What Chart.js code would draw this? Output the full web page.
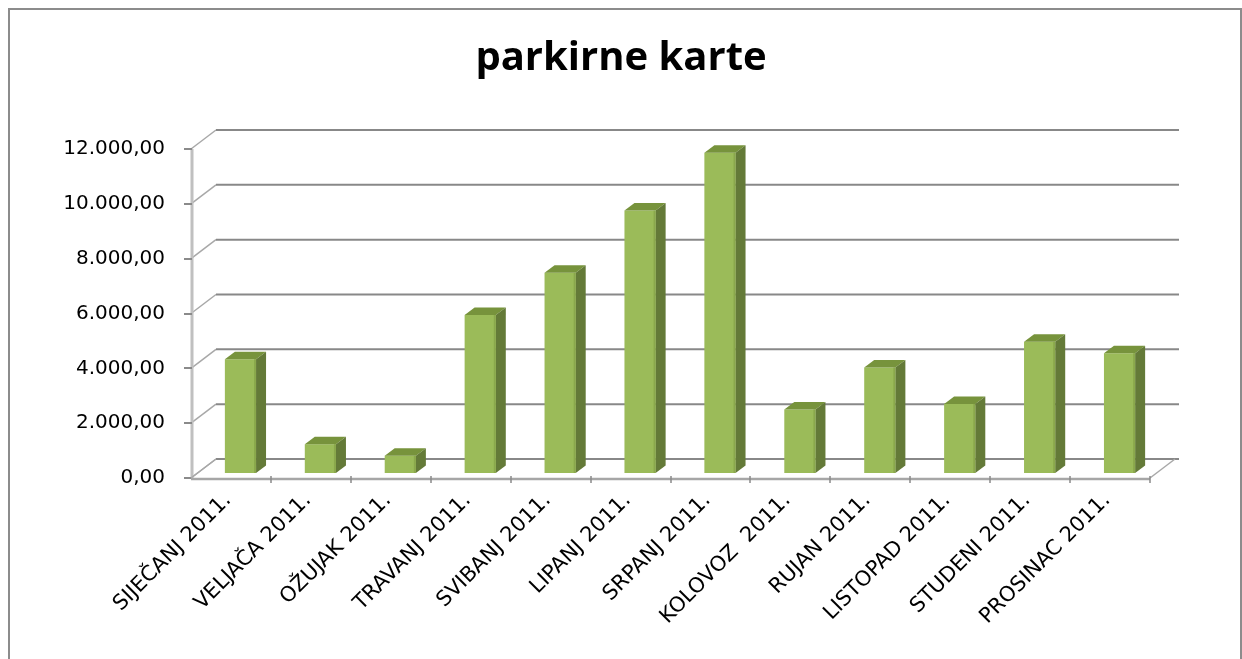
<!DOCTYPE html>
<html>
<head>
<meta charset="utf-8">
<script src="https://cdn.jsdelivr.net/npm/chart.js@4.4.1/dist/chart.umd.min.js"></script>
<style>
  html, body { margin: 0; padding: 0; background: #fff; }
  #wrap { width: 1242px; height: 659px; }
</style>
</head>
<body>
<div id="wrap"><canvas id="chart" width="1242" height="659"></canvas></div>
<script>
const categories = [
  "SIJEČANJ 2011.", "VELJAČA 2011.", "OŽUJAK 2011.", "TRAVANJ 2011.",
  "SVIBANJ 2011.", "LIPANJ 2011.", "SRPANJ 2011.", "KOLOVOZ  2011.",
  "RUJAN 2011.", "LISTOPAD 2011.", "STUDENI 2011.", "PROSINAC 2011."
];
const values = [4150, 1050, 630, 5760, 7300, 9570, 11680, 2320, 3850, 2520, 4790, 4370];
const yTickLabels = ["0,00", "2.000,00", "4.000,00", "6.000,00", "8.000,00", "10.000,00", "12.000,00"];

// 3d look: back wall offset, bar offset from the front plane, bar depth
const WALL = { dx: 25, dy: -19 };
const BAR_SHIFT = { dx: 9.5, dy: -5 };
const BAR_DEPTH = { dx: 10, dy: -7.5 };
const TITLE_FONT = "'Open Sans', 'DejaVu Sans', sans-serif";
const TICK_FONT = "'DejaVu Sans', 'Open Sans', sans-serif";

const frame3d = {
  id: "frame3d",
  beforeDraw(chart) {
    const ctx = chart.ctx;
    ctx.save();
    ctx.strokeStyle = "#8c8c8c";
    ctx.lineWidth = 2;
    ctx.strokeRect(9, 9, 1232, 700);
    ctx.restore();
  },
  beforeDatasetsDraw(chart) {
    const ctx = chart.ctx;
    const a = chart.chartArea;
    const y = chart.scales.y;
    ctx.save();
    // back wall grid lines + left wall diagonals
    y.ticks.forEach((t) => {
      const py = y.getPixelForValue(t.value);
      ctx.strokeStyle = "#a8a8a8";
      ctx.lineWidth = 1.5;
      ctx.beginPath();
      ctx.moveTo(a.left, py);
      ctx.lineTo(a.left + WALL.dx, py + WALL.dy);
      ctx.stroke();
      ctx.strokeStyle = "#888888";
      ctx.lineWidth = 2;
      ctx.beginPath();
      ctx.moveTo(a.left + WALL.dx, py + WALL.dy);
      ctx.lineTo(a.right + WALL.dx + 4, py + WALL.dy);
      ctx.stroke();
    });
    // floor right edge
    const y0 = y.getPixelForValue(0);
    ctx.strokeStyle = "#a8a8a8";
    ctx.lineWidth = 1.5;
    ctx.beginPath();
    ctx.moveTo(a.right, y0);
    ctx.lineTo(a.right + WALL.dx, y0 + WALL.dy);
    ctx.stroke();
    // shift the bars back into the box
    ctx.translate(BAR_SHIFT.dx, BAR_SHIFT.dy);
  },
  afterDatasetsDraw(chart) {
    const ctx = chart.ctx;
    const meta = chart.getDatasetMeta(0);
    meta.data.forEach((bar) => {
      const p = bar.getProps(["x", "y", "base", "width"], true);
      const l = p.x - p.width / 2, r = p.x + p.width / 2;
      // top face
      ctx.fillStyle = "#77933c";
      ctx.beginPath();
      ctx.moveTo(l, p.y);
      ctx.lineTo(l + BAR_DEPTH.dx, p.y + BAR_DEPTH.dy);
      ctx.lineTo(r + BAR_DEPTH.dx, p.y + BAR_DEPTH.dy);
      ctx.lineTo(r, p.y);
      ctx.closePath();
      ctx.fill();
      // side face
      ctx.fillStyle = "#647a38";
      ctx.beginPath();
      ctx.moveTo(r, p.y);
      ctx.lineTo(r + BAR_DEPTH.dx, p.y + BAR_DEPTH.dy);
      ctx.lineTo(r + BAR_DEPTH.dx, p.base + BAR_DEPTH.dy);
      ctx.lineTo(r, p.base);
      ctx.closePath();
      ctx.fill();
      // thin light edge on the front face
      ctx.fillStyle = "#8aa84c";
      ctx.fillRect(r - 2, p.y, 2, p.base - p.y);
    });
    ctx.restore();

    // front axes
    const a = chart.chartArea;
    const y = chart.scales.y;
    const x = chart.scales.x;
    ctx.save();
    ctx.strokeStyle = "#c0c0c0";
    ctx.lineWidth = 3;
    ctx.beginPath();
    ctx.moveTo(a.left + 1, a.top);
    ctx.lineTo(a.left + 1, a.bottom);
    ctx.stroke();
    ctx.strokeStyle = "#8a8a8a";
    ctx.lineWidth = 2;
    y.ticks.forEach((t) => {
      const py = Math.round(y.getPixelForValue(t.value));
      ctx.beginPath();
      ctx.moveTo(a.left - 7, py);
      ctx.lineTo(a.left + 1, py);
      ctx.stroke();
    });
    ctx.strokeStyle = "#a6a6a6";
    ctx.lineWidth = 2.5;
    ctx.beginPath();
    ctx.moveTo(a.left, a.bottom + 1);
    ctx.lineTo(a.right, a.bottom + 1);
    ctx.stroke();
    ctx.strokeStyle = "#8a8a8a";
    ctx.lineWidth = 1.5;
    for (let i = 1; i <= categories.length; i++) {
      const px = Math.round(x.getPixelForValue(i - 0.5));
      ctx.beginPath();
      ctx.moveTo(px, a.bottom - 2);
      ctx.lineTo(px, a.bottom + 5);
      ctx.stroke();
    }
    // floor left edge
    ctx.strokeStyle = "#a8a8a8";
    ctx.beginPath();
    ctx.moveTo(a.left, a.bottom);
    ctx.lineTo(a.left + WALL.dx, a.bottom + WALL.dy);
    ctx.stroke();
    ctx.restore();
  }
};

new Chart(document.getElementById("chart"), {
  type: "bar",
  data: {
    labels: categories,
    datasets: [{
      data: values,
      backgroundColor: "#9bbb59",
      borderWidth: 0,
      barPercentage: 0.39,
      categoryPercentage: 1,
      clip: false
    }]
  },
  options: {
    responsive: false,
    animation: false,
    events: [],
    layout: { padding: 0 },
    plugins: {
      legend: { display: false },
      tooltip: { enabled: false },
      title: {
        display: true,
        text: "parkirne karte",
        color: "#000",
        font: { family: TITLE_FONT, size: 40, weight: "bold" },
        padding: { top: 35, bottom: 66 }
      }
    },
    scales: {
      x: {
        grid: { display: false, drawTicks: false },
        border: { display: false },
        ticks: {
          color: "#000",
          font: { family: TICK_FONT, size: 21 },
          autoSkip: false,
          minRotation: 45,
          maxRotation: 45,
          labelOffset: -3,
          padding: 10
        },
        afterFit(scale) { scale.height = 181; }
      },
      y: {
        min: 0,
        max: 12000,
        grid: { display: false, drawTicks: false },
        border: { display: false },
        ticks: {
          stepSize: 2000,
          color: "#000",
          font: { family: TICK_FONT, size: 20 },
          padding: 26,
          callback: (v, i) => yTickLabels[i]
        },
        afterFit(scale) { scale.width = 191; }
      },
      // empty right-hand axis, only reserves the space right of the box
      yRight: {
        position: "right",
        grid: { display: false, drawTicks: false },
        border: { display: false },
        ticks: { display: false },
        afterFit(scale) { scale.width = 92; }
      }
    }
  },
  plugins: [frame3d]
});
</script>
</body>
</html>
